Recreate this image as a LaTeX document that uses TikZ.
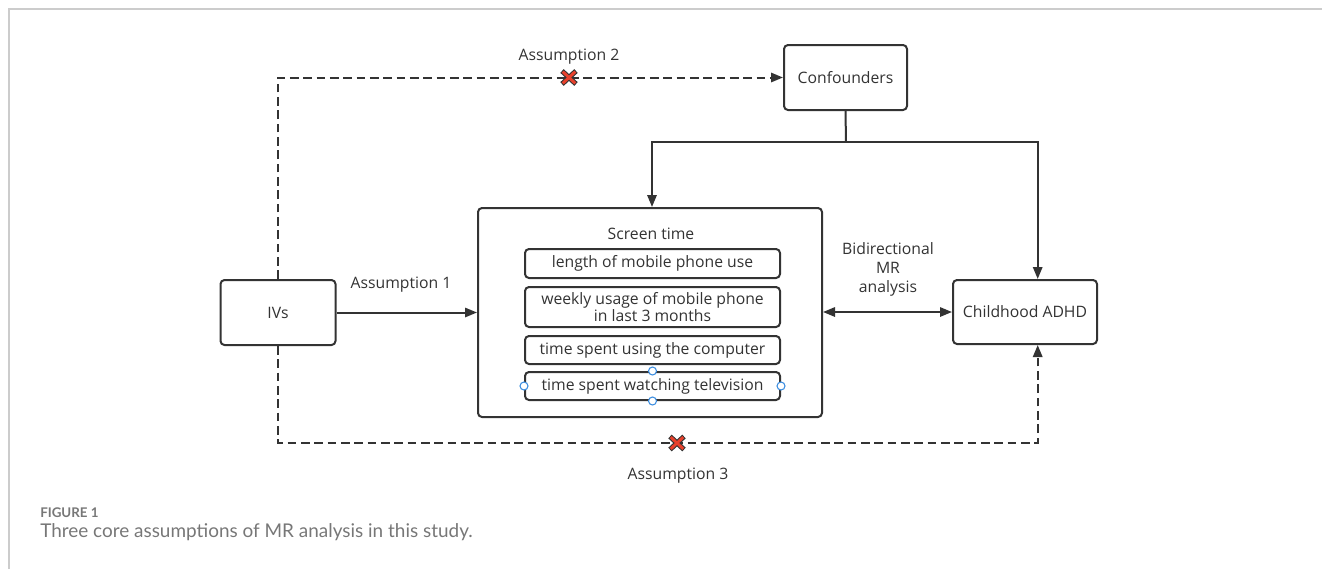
\documentclass[tikz,border=0pt]{standalone}
\usepackage{fontspec}
\setmainfont{Open Sans}
\newfontfamily\capfont{Lato}
\usetikzlibrary{positioning,arrows.meta}
\definecolor{ink}{HTML}{333333}
\definecolor{capink}{HTML}{777777}
\definecolor{rimgray}{HTML}{CCCCCC}
\definecolor{cutred}{HTML}{E8412C}
\definecolor{handleblue}{HTML}{3D8EE0}

\tikzset{
  box/.style={draw=ink,line width=1.5pt,rounded corners=3pt,fill=white,
    text=ink,font=\fontsize{11.8pt}{14pt}\selectfont,align=center},
  itembox/.style={box,minimum width=191.25pt,inner sep=0pt},
  link/.style={draw=ink,line width=1.5pt},
  arrowlink/.style={link,-{Triangle[length=9pt,width=7pt]}},
  dashlink/.style={arrowlink,dash pattern=on 6.5pt off 3.5pt},
  tag/.style={text=ink,font=\fontsize{11.8pt}{14pt}\selectfont,align=center},
  handle/.style={circle,draw=handleblue,line width=0.8pt,fill=white,inner sep=0pt,minimum size=6pt}
}
\newcommand\cutmark[1]{%
  \draw[ink,line width=3.8pt] ([shift={(-7,-6.5)}]#1) -- ([shift={(7,6.5)}]#1)
    ([shift={(-7,6.5)}]#1) -- ([shift={(7,-6.5)}]#1);
  \draw[cutred,line width=2.2pt] ([shift={(-6.3,-5.9)}]#1) -- ([shift={(6.3,5.9)}]#1)
    ([shift={(-6.3,5.9)}]#1) -- ([shift={(6.3,-5.9)}]#1);}

\begin{document}
\begin{tikzpicture}[x=0.75pt,y=-0.75pt]
  \useasboundingbox (0,0) rectangle (1322,569);
  \draw[rimgray,line width=0.8pt] (9,569) -- (9,9) -- (1322,9);

  % main boxes
  \node[box,minimum width=86.25pt,minimum height=48.75pt] (ivs) at (278,312.5) {IVs};
  \node[box,minimum width=92.25pt,minimum height=48.75pt] (conf) at (845.5,77.5) {Confounders};
  \node[box,minimum width=108pt,minimum height=48pt] (adhd) at (1025,312) {Childhood ADHD};
  \node[box,minimum width=258pt,minimum height=156.75pt] (screen) at (650,312.5) {};

  % screen time items
  \node[tag,anchor=base] (stitle) at (651,239) {Screen time};
  \node[itembox,minimum height=21.75pt] (len) at (652.5,263.5) {length of mobile phone use};
  \node[itembox,minimum height=30pt,font=\fontsize{11.8pt}{13pt}\selectfont] (week) at (652.5,307)
    {weekly usage of mobile phone\\in last 3 months};
  \node[itembox,minimum height=21pt] (comp) at (652.5,350) {time spent using the computer};
  \node[itembox,minimum height=21pt] (tv) at (652.5,386) {time spent watching television};
  \foreach \a in {north,south,east,west}
    \node[handle] (tv-\a) at (tv.\a) {};

  % routing points
  \coordinate (fork) at (846,142);
  \coordinate (teeL) at (652,142);
  \coordinate (teeR) at (1037.7,142);
  \coordinate (low) at (1037.7,443);
  \coordinate (cut2) at (569,77.5);
  \coordinate (cut3) at (677,443);

  % confounders
  \draw[link] (conf.south) -- (fork);
  \draw[arrowlink] (fork) -- (teeL) -- (teeL |- screen.north);
  \draw[arrowlink] (fork) -- (teeR) -- (teeR |- adhd.north);

  % assumptions
  \draw[arrowlink] (ivs.east) -- (ivs.east -| screen.west);
  \draw[dashlink] (ivs.north) |- (conf.west);
  \draw[dashlink] (ivs.south) |- (low) -- (teeR |- adhd.south);
  \draw[arrowlink,{Triangle[length=9pt,width=7pt]}-{Triangle[length=9pt,width=7pt]}]
    (adhd.west -| screen.east) -- (adhd.west);
  \cutmark{cut2}
  \cutmark{cut3}

  \node[tag,anchor=base] (a1) at (401,288) {Assumption 1};
  \node[tag,anchor=base] (a2) at (569,60) {Assumption 2};
  \node[tag,anchor=base] (a3) at (678,479) {Assumption 3};
  \node[tag,anchor=base,font=\fontsize{11.8pt}{13.9pt}\selectfont] (bidir) at (888,292)
    {Bidirectional\\MR\\analysis};

  % caption
  \node[anchor=base west,inner sep=0pt,text=capink,font=\capfont\bfseries\fontsize{10pt}{12pt}\selectfont] (fig) at (40,517) {FIGURE 1};
  \node[anchor=base west,inner sep=0pt,text=capink,font=\capfont\fontsize{14.2pt}{16pt}\selectfont] (cap) at (40,537)
    {Three core assumptions of MR analysis in this study.};
\end{tikzpicture}
\end{document}
